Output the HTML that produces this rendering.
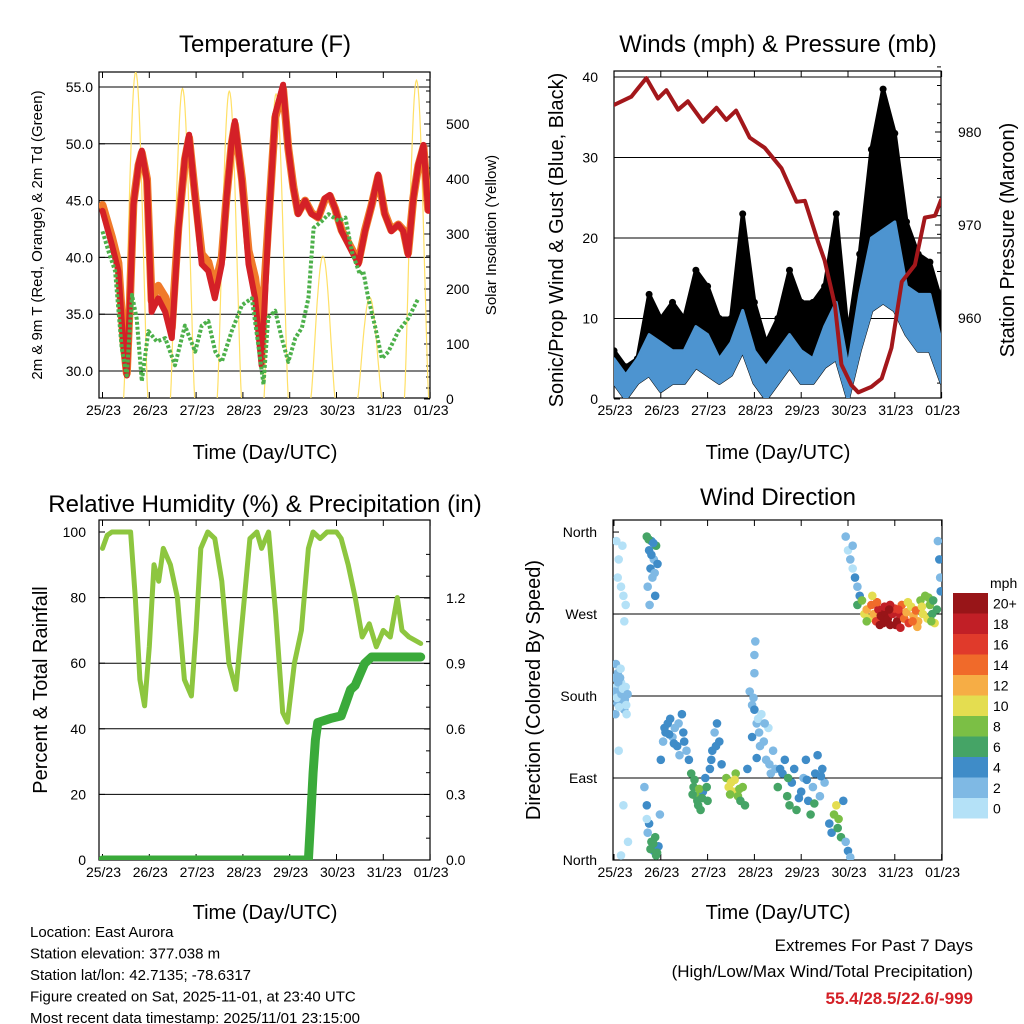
<!DOCTYPE html>
<html><head><meta charset="utf-8">
<style>
body{margin:0;background:#fff;}
svg{display:block;font-family:"Liberation Sans",Arial,sans-serif;}
</style></head>
<body>
<svg id="chart" width="1024" height="1024" viewBox="0 0 1024 1024" xmlns="http://www.w3.org/2000/svg">
<defs>
<clipPath id="c1"><rect x="99" y="72" width="331" height="326"/></clipPath>
<clipPath id="c2"><rect x="614" y="71" width="327" height="327"/></clipPath>
<clipPath id="c3"><rect x="99" y="520" width="331" height="340"/></clipPath>
<clipPath id="c4"><rect x="613" y="520" width="329" height="340"/></clipPath>
</defs>
<g id="root"></g>
</svg>
<script>
// ---------- DATA ----------
const dayLabels=["25/23","26/23","27/23","28/23","29/23","30/23","31/23","01/23"];
// Temperature (F)
const tempT=[0,0.2,0.34,0.45,0.52,0.59,0.66,0.77,0.84,0.95,1.05,1.19,1.34,1.48,1.62,1.76,1.85,1.98,2.12,2.26,2.4,2.55,2.65,2.76,2.83,2.98,3.12,3.26,3.4,3.54,3.69,3.86,3.97,4.08,4.18,4.33,4.47,4.61,4.75,4.86,4.97,5.11,5.33,5.47,5.61,5.75,5.89,6.03,6.17,6.32,6.43,6.53,6.64,6.75,6.86,6.96];
const temp2m=[44.1,41.1,38.8,32,29.6,36.4,44.6,48.2,49.4,46.7,35.2,36.4,35.2,32.9,42.3,48.8,50.8,45.2,39.4,38.8,36.4,39.4,45.2,50.2,52,46.7,39.4,36.4,30.5,42.3,52.6,55.2,49.6,46.1,43.8,45,43.8,43.5,45.2,45.5,44.3,42.3,40.5,39.4,42.3,44.6,47.3,43.8,42.3,42.9,42.3,40.2,45.2,48.2,49.9,44.1];
const temp9m=[44.6,41.8,39.5,32.5,29.8,36.6,44.8,48.1,49.2,46.9,36.2,37.5,36.5,33.8,42.6,48.6,50.5,45.4,40.3,39.6,37.4,40,45.3,50,51.7,46.9,40.6,38.2,33.5,42.8,52.3,54.8,49.6,46.2,43.9,45,43.9,43.5,45.1,45.4,44.3,42.4,40.7,39.6,42.4,44.6,47.1,43.9,42.4,42.9,42.4,40.4,45.2,48.1,49.7,44.2];
const dewT=[0,0.13,0.27,0.41,0.52,0.63,0.73,0.84,0.98,1.16,1.34,1.55,1.76,1.98,2.12,2.26,2.41,2.55,2.76,2.98,3.19,3.33,3.44,3.54,3.69,3.83,3.97,4.12,4.26,4.4,4.51,4.69,4.83,5.05,5.19,5.33,5.5,5.57,5.68,5.82,5.97,6.11,6.32,6.53,6.75];
const dew2m=[42.3,40.5,38.8,32,29.6,36.7,34.6,29.1,33.5,32.6,32.9,30.5,34,31.7,34,34.4,31.7,30.8,33.5,35.8,36.4,32.3,28.8,34.7,35.3,32.9,30.8,32.9,33.8,36.4,42.6,43.2,43.8,43.2,43.5,40.5,38.5,38.8,36.4,34,31.1,31.7,33.5,34.6,36.4];
const solarPeak=[595,565,560,555,260,185,580];
// Winds (mph) & pressure (mb)
const windT=[0,0.25,0.5,0.75,1,1.25,1.5,1.75,2,2.25,2.5,2.75,3,3.25,3.5,3.75,4,4.25,4.5,4.75,5,5.25,5.5,5.75,6,6.25,6.5,6.75,7];
const windLo=[2,0,2,3,1,2,2,4,3,2,3,6,2,0,2,4,2,2,4,5,0,6,11,12,11,8,6,6,2];
const windHi=[5,3,5,8,7,6,6,9,8,5,7,11,6,4,6,8,6,5,9,12,4,13,20,21,22,14,13,13,7];
const gustHi=[6,4,5,13,10,12,10,16,14,10,10,23,12,7,10,16,12,12,14,23,8,18,31,38.5,33,22,18,17,12];
const presT=[0,0.37,0.69,0.94,1.12,1.37,1.58,1.9,2.19,2.4,2.61,2.9,3.22,3.58,3.9,4.08,4.36,4.5,4.72,4.86,5.07,5.22,5.5,5.72,5.93,6.15,6.43,6.64,6.86,6.99];
const presMb=[982.9,983.8,985.8,983.6,984.5,982.4,983.3,981.1,982.6,981.3,982.3,979.4,978.3,976.1,972.5,972.6,968.2,966.2,961.4,955,952.8,952,952.6,953.5,956.8,963.9,965.7,970.8,971,972.7];
// RH & precipitation
const rhT=[0,0.1,0.2,0.55,0.6,0.7,0.8,0.9,1,1.1,1.2,1.3,1.45,1.6,1.75,1.9,2,2.1,2.25,2.4,2.55,2.7,2.85,3,3.15,3.3,3.4,3.55,3.7,3.85,3.95,4.1,4.25,4.4,4.5,4.65,4.8,5,5.1,5.25,5.4,5.55,5.7,5.85,6,6.15,6.3,6.4,6.55,6.8];
const rhPct=[95,99,100,100,100,80,55,47,65,90,85,95,90,80,55,50,70,95,100,98,85,60,52,75,98,100,95,100,75,45,42,60,70,95,100,98,100,100,98,90,80,68,72,65,70,68,80,70,68,66];
const rainT=[0,4.4,4.45,4.5,4.55,4.6,4.75,4.9,5.1,5.2,5.3,5.4,5.5,5.6,5.75,6,6.8];
const rainIn=[0,0,0.2,0.4,0.55,0.63,0.64,0.65,0.66,0.72,0.78,0.8,0.85,0.9,0.93,0.93,0.93];
// Wind direction points: [day, degrees, speed]
const dirPts=[[0.02,200,2],[0.05,190,1],[0.08,205,2],[0.1,185,3],[0.12,175,2],[0.15,195,1],[0.18,170,2],[0.2,180,3],[0.22,165,2],[0.25,190,1],[0.04,215,2],[0.14,210,1],[0.07,172,3],[0.27,160,1],[0.03,160,2],
[0.01,185,2],[0.06,178,1],[0.09,195,2],[0.11,168,1],[0.13,200,2],[0.16,182,3],[0.19,188,1],[0.23,176,2],[0.26,170,1],[0.29,182,2],
[0.05,350,0],[0.1,330,1],[0.15,300,0],[0.2,290,1],[0.18,345,0],[0.25,280,0],[0.08,310,1],[0.22,262,0],[0.1,120,1],[0.2,60,0],[0.3,20,1],[0.15,5,0],
[0.7,355,6],[0.75,340,4],[0.8,350,5],[0.85,330,3],[0.78,320,4],[0.72,300,2],[0.82,310,3],[0.9,345,6],[0.88,290,4],[0.76,280,2],[0.93,325,4],
[0.74,352,7],[0.84,348,4],[0.8,335,4],[0.87,315,3],
[0.65,80,3],[0.7,60,4],[0.75,40,5],[0.8,20,6],[0.85,10,5],[0.9,5,6],[0.95,15,4],[0.72,30,3],[0.88,25,7],[0.98,50,3],
[0.78,12,6],[0.84,18,7],[0.92,8,6],[0.7,45,1],
[1.0,110,4],[1.05,130,3],[1.1,140,4],[1.15,150,5],[1.2,155,4],[1.25,135,3],[1.3,145,2],[1.35,125,4],[1.4,115,3],[1.45,160,5],[1.5,130,4],[1.55,120,3],
[1.08,145,5],[1.18,138,4],[1.28,128,4],[1.38,150,3],[1.48,140,4],
[1.6,110,4],[1.65,95,6],[1.7,80,7],[1.75,70,8],[1.8,60,7],[1.85,55,6],[1.9,75,5],[1.95,90,4],[2.0,65,6],[2.05,100,5],[1.72,88,6],[1.82,78,8],[2.1,120,4],[2.15,140,3],[2.2,150,4],[2.25,130,4],[2.3,105,5],
[1.68,72,7],[1.78,65,6],[1.88,68,7],[1.98,80,6],[2.08,110,4],[2.18,125,4],
[2.4,90,8],[2.45,80,10],[2.5,85,11],[2.55,75,10],[2.6,95,9],[2.65,70,8],[2.7,65,6],[2.75,80,9],[2.8,60,6],[2.85,100,5],
[2.48,72,8],[2.58,88,10],[2.68,78,9],
[2.9,185,3],[2.95,170,2],[3.0,165,4],[3.05,150,3],[3.1,140,2],[3.15,160,1],[3.2,130,2],[3.25,110,3],[3.3,145,1],[3.35,95,2],[3.4,120,3],[3.45,100,2],[3.0,205,2],[2.95,135,4],[3.05,112,5],[3.0,225,2],[3.02,240,3],
[2.98,178,2],[3.08,155,1],[3.12,125,2],[3.22,150,2],[3.32,105,3],
[3.5,80,6],[3.6,95,5],[3.65,110,4],[3.7,70,7],[3.75,60,6],[3.8,85,4],[3.85,100,5],[3.9,55,6],[4.0,75,4],[4.05,90,3],[4.1,110,4],[4.15,65,5],[4.2,50,6],[4.25,80,3],[4.3,95,4],[4.35,115,4],[4.4,70,3],[4.45,100,4],[4.5,85,3],
[3.55,100,4],[3.72,90,6],[3.95,68,5],[4.12,88,4],[4.28,62,6],[4.42,92,4],
[4.6,40,5],[4.65,30,4],[4.7,50,8],[4.75,60,10],[4.8,45,9],[4.85,25,6],[4.9,65,4],[4.95,20,3],[5.0,10,4],[5.05,3,3],[4.78,35,7],
[4.95,355,2],[5.0,340,1],[5.05,330,3],[5.1,345,2],[5.15,310,4],[5.2,300,3],[5.1,320,1],[5.25,290,5],[5.2,280,6],
[5.3,285,8],[5.35,270,10],[5.4,275,12],[5.45,265,11],[5.5,280,14],[5.55,270,12],[5.6,262,16],[5.65,275,18],[5.7,268,20],[5.75,260,21],[5.8,272,22],[5.85,265,20],[5.9,258,22],[5.95,270,19],[6.0,276,17],[6.05,262,20],[6.1,270,18],[6.15,280,14],[6.2,265,15],[6.25,272,12],[6.3,260,16],[6.35,278,10],[6.4,268,13],[6.45,274,15],[6.5,262,12],[6.55,285,9],[6.6,270,10],[6.65,290,8],[6.7,265,11],[6.75,280,9],[6.8,270,7],[6.85,260,10],[6.9,275,6],[5.4,262,9],[5.62,283,15],[5.78,278,19],[6.02,258,22],[6.28,283,11],[6.48,256,13],[6.72,288,8],[6.82,285,6],[5.52,290,10],[5.9,280,18],[6.12,255,19],
[5.68,258,21],[5.88,275,21],[6.08,275,16],[6.38,262,14],[6.58,278,11],[6.78,262,8],
[6.92,350,3],[6.95,330,4],[6.97,310,2],[6.98,295,4]];
const speedLevels=["0","2","4","6","8","10","12","14","16","18","20+"];
const speedColors=["#b4e1f7","#7fb9e4","#3f8cc8","#45a466","#7bbf45","#e4dd50","#f6ad45","#f06a2a","#e03a2b","#c11f26","#981518"];

// ---------- helpers ----------
const NS="http://www.w3.org/2000/svg";
const root=document.getElementById('root');
function mk(tag,attrs,parent,text){const e=document.createElementNS(NS,tag);for(const k in attrs)e.setAttribute(k,attrs[k]);if(text!==undefined)e.textContent=text;(parent||root).appendChild(e);return e;}
function grp(name,clip){const g=mk('g',clip?{'clip-path':'url(#'+clip+')'}:{});return g;}
function txt(g,x,y,s,size,anchor,extra){const t=mk('text',Object.assign({x:x,y:y,'font-size':size,'text-anchor':anchor||'middle',fill:'#000'},extra||{}),g,s);return t;}

// scales
const x1=d=>102.5+46.8*d, yT=t=>87+(55-t)*11.36, yS=s=>399-s*0.55;
const x2=d=>614+46.8*d, yW=w=>399-w*8.05, yP=p=>132+(980-p)*9.3;
const x3=d=>102.5+46.8*d, yR=h=>860-h*3.28, yRain=r=>860-r*218.3;
const x4=d=>614+46.8*d, yD=a=>860-a*0.911;

function frame(name,L,T,R,B){const g=grp(name);mk('rect',{x:L,y:T,width:R-L,height:B-T,fill:'none',stroke:'#000','stroke-width':1.2},g);return g;}
function xAxis(g,xs,T,B){dayLabels.forEach((lb,i)=>{const x=xs(i);mk('line',{x1:x,y1:B,x2:x,y2:B-6,stroke:'#000'},g);mk('line',{x1:x,y1:T,x2:x,y2:T+6,stroke:'#000'},g);const t=txt(g,x+1,B+17,lb,14);});}
function hGrid(g,L,R,ys){ys.forEach(y=>mk('line',{x1:L,y1:y,x2:R,y2:y,stroke:'#000','stroke-width':1},g));}
function poly(g,xs,ys,T,V,attrs){const pts=T.map((t,i)=>xs(t).toFixed(1)+','+ys(V[i]).toFixed(1)).join(' ');return mk('polyline',Object.assign({points:pts,fill:'none','stroke-linejoin':'round','stroke-linecap':'round'},attrs),g);}

// ---------- Panel 1: Temperature ----------
{
const g=frame('temperature-panel',99,72,430,398);
const leftTicks=[30,35,40,45,50,55];
hGrid(g,99,430,leftTicks.map(yT));
leftTicks.forEach(v=>{txt(g,93,yT(v)+5,v.toFixed(1),14,'end');mk('line',{x1:99,y1:yT(v),x2:105,y2:yT(v),stroke:'#000'},g);});
[0,100,200,300,400,500].forEach(v=>{txt(g,446,yS(v)+5,String(v),14,'start');mk('line',{x1:430,y1:yS(v),x2:424,y2:yS(v),stroke:'#000'},g);});
for(let v=20;v<600;v+=20){if(v%100)mk('line',{x1:430,y1:yS(v),x2:426,y2:yS(v),stroke:'#000'},g);}
xAxis(g,x1,72,398);
const sg=grp('solar-insolation-line','c1');
solarPeak.forEach((pk,k)=>{const T=[],V=[];for(let i=0;i<=30;i++){const f=i/30;T.push(k+0.45+0.52*f);V.push(pk*Math.pow(Math.sin(Math.PI*f),1.3));}
 const p=poly(sg,x1,yS,T,V,{stroke:'#ffe066','stroke-width':1.2});});
const lg=grp('temperature-lines','c1');
const o=poly(lg,x1,yT,tempT,temp9m,{stroke:'#f07a2a','stroke-width':8});
const r=poly(lg,x1,yT,tempT,temp2m,{stroke:'#d42027','stroke-width':6});
const d=poly(lg,x1,yT,dewT,dew2m,{stroke:'#4cb04a','stroke-width':4,'stroke-dasharray':'3,2','stroke-linecap':'butt'});
txt(g,265,52,'Temperature (F)',24);
txt(g,265,459,'Time (Day/UTC)',20);
txt(g,0,0,'2m & 9m T (Red, Orange) & 2m Td (Green)',15,'middle',{transform:'translate(42,235) rotate(-90)'});
txt(g,0,0,'Solar Insolation (Yellow)',15,'middle',{transform:'translate(496,235) rotate(-90)'});
}

// ---------- Panel 2: Winds ----------
{
const g=frame('winds-panel',614,71,941,398);
const wt=[0,10,20,30,40];
hGrid(g,614,941,wt.slice(1).map(yW));
wt.forEach(v=>{txt(g,598,yW(v)+5,String(v),14,'end');mk('line',{x1:614,y1:yW(v),x2:620,y2:yW(v),stroke:'#000'},g);});
[960,970,980].forEach(v=>{txt(g,958,yP(v)+5,String(v),14,'start');mk('line',{x1:941,y1:yP(v),x2:935,y2:yP(v),stroke:'#000'},g);});
for(let v=953;v<988;v+=2){mk('line',{x1:941,y1:yP(v),x2:937,y2:yP(v),stroke:'#000'},g);}
xAxis(g,x2,71,398);
const dg=grp('wind-gust-series','c2');
let pts=windT.map((t,i)=>x2(t)+','+yW(gustHi[i])).join(' ')+' '+windT.slice().reverse().map((t,i)=>x2(t)+','+yW(windLo[windT.length-1-i])).join(' ');
const ga=mk('polygon',{points:pts,fill:'#000',stroke:'#000','stroke-width':4,'stroke-linejoin':'round'},dg);

windT.forEach((t,i)=>{const c=mk('circle',{cx:x2(t),cy:yW(gustHi[i]),r:3.5,fill:'#000'},dg);});
pts=windT.map((t,i)=>x2(t)+','+yW(windHi[i])).join(' ')+' '+windT.slice().reverse().map((t,i)=>x2(t)+','+yW(windLo[windT.length-1-i])).join(' ');
const wa=mk('polygon',{points:pts,fill:'#4d94d0',stroke:'#4d94d0','stroke-width':3,'stroke-linejoin':'round'},dg);

const pl=poly(dg,x2,yP,presT,presMb,{stroke:'#a3171b','stroke-width':4});
txt(g,778,52,'Winds (mph) & Pressure (mb)',24);
txt(g,778,459,'Time (Day/UTC)',20);
txt(g,0,0,'Sonic/Prop Wind & Gust (Blue, Black)',20,'middle',{transform:'translate(563,240) rotate(-90)'});
txt(g,0,0,'Station Pressure (Maroon)',20,'middle',{transform:'translate(1014,240) rotate(-90)'});
}

// ---------- Panel 3: RH & Precip ----------
{
const g=frame('humidity-panel',99,520,430,860);
const lt=[0,20,40,60,80,100];
hGrid(g,99,430,[20,40,60,80].map(yR));
lt.forEach(v=>{txt(g,86,yR(v)+5,String(v),14,'end');mk('line',{x1:99,y1:yR(v),x2:105,y2:yR(v),stroke:'#000'},g);});
[0,0.3,0.6,0.9,1.2].forEach(v=>{txt(g,446,yRain(v)+5,v.toFixed(1),14,'start');mk('line',{x1:430,y1:yRain(v),x2:424,y2:yRain(v),stroke:'#000'},g);});
for(let v=0.1;v<1.45;v+=0.1){mk('line',{x1:430,y1:yRain(v),x2:426,y2:yRain(v),stroke:'#000'},g);}
xAxis(g,x3,520,860);
const lg=grp('humidity-lines','c3');
const rh=poly(lg,x3,yR,rhT,rhPct,{stroke:'#8dc63f','stroke-width':5});
const rn=poly(lg,x3,yRain,rainT,rainIn,{stroke:'#3aaa3a','stroke-width':9});
txt(g,265,512,'Relative Humidity (%) & Precipitation (in)',24);
txt(g,265,919,'Time (Day/UTC)',20);
txt(g,0,0,'Percent & Total Rainfall',20,'middle',{transform:'translate(47,690) rotate(-90)'});
}

// ---------- Panel 4: Wind direction ----------
{
const g=frame('wind-direction-panel',613,520,942,860);
const dirNames=["North","East","South","West","North"];
hGrid(g,613,942,[90,180,270].map(yD));
dirNames.forEach((n,i)=>{txt(g,597,yD(i*90)+5,n,14,'end');mk('line',{x1:613,y1:yD(i*90),x2:619,y2:yD(i*90),stroke:'#000'},g);});
xAxis(g,x4,520,860);
const sg=grp('direction-points','c4');
dirPts.forEach(p=>{const idx=Math.min(10,Math.floor(p[2]/2));const c=mk('circle',{cx:x4(p[0]).toFixed(1),cy:yD(p[1]).toFixed(1),r:4.3,fill:speedColors[idx]},sg);

});
txt(g,778,505,'Wind Direction',24);
txt(g,778,919,'Time (Day/UTC)',20);
txt(g,0,0,'Direction (Colored By Speed)',20,'middle',{transform:'translate(540,690) rotate(-90)'});
const cb=grp('speed-colorbar');
const h=20.5;
speedLevels.forEach((lb,i)=>{const y=593+(10-i)*h;mk('rect',{x:953,y:y,width:35,height:h,fill:speedColors[i]},cb);
const t=txt(cb,993,y+h/2+5,lb,14,'start');});
txt(cb,990,588,'mph',14,'start');
}

// ---------- footer ----------
{
const g=grp('station-info');
["Location: East Aurora","Station elevation: 377.038 m","Station lat/lon: 42.7135; -78.6317","Figure created on Sat, 2025-11-01, at 23:40 UTC","Most recent data timestamp: 2025/11/01 23:15:00"].forEach((s,i)=>txt(g,30,937+i*21.5,s,15,'start'));
const e=grp('extremes-summary');
txt(e,973,951,'Extremes For Past 7 Days',17,'end');
txt(e,973,977,'(High/Low/Max Wind/Total Precipitation)',17,'end');
txt(e,973,1004,'55.4/28.5/22.6/-999',17,'end',{fill:'#d42027','font-weight':'bold'});
}
</script>
</body></html>
